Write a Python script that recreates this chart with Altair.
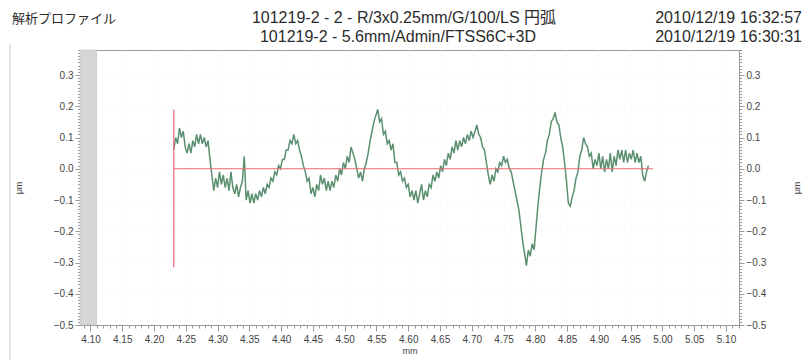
import altair as alt
import pandas as pd

# ---------------- data ----------------
X_START = 4.231          # mm, first sample of the profile
X_STEP = 0.003           # mm, spacing of the read-off samples
profile_um = [
    0.06, 0.10, 0.08, 0.13, 0.10, 0.12, 0.07, 0.05, 0.08, 0.05,
    0.09, 0.07, 0.11, 0.08, 0.11, 0.08, 0.10, 0.07, 0.09, 0.03,
    -0.02, -0.07, -0.03, -0.06, -0.01, -0.05, -0.02, -0.06, -0.03, -0.07,
    -0.01, -0.06, -0.08, -0.05, -0.09, -0.06, -0.04, 0.04,
    -0.10, -0.07, -0.11, -0.08, -0.11, -0.08, -0.10, -0.07, -0.09, -0.06,
    -0.08, -0.05, -0.06, -0.03, -0.04, -0.01, -0.02, 0.01, 0.00, 0.03,
    0.03, 0.06, 0.06, 0.09, 0.08, 0.11, 0.08, 0.09, 0.06, 0.04,
    0.01, -0.01, -0.04, -0.03, -0.08, -0.06, -0.09, -0.05, -0.07, -0.02,
    -0.05, -0.03, -0.07, -0.04, -0.07, -0.04, -0.06, -0.02, -0.04, 0.00,
    -0.02, 0.02, 0.00, 0.04, 0.02, 0.07, 0.05, 0.03, 0.00, -0.03,
    -0.01, -0.04, 0.00, 0.02, 0.05, 0.09, 0.12, 0.15, 0.17, 0.19,
    0.15, 0.16, 0.11, 0.12, 0.08, 0.09, 0.06, 0.08, 0.02, 0.02,
    -0.02, -0.01, -0.04, -0.03, -0.06, -0.05, -0.09, -0.07, -0.10, -0.07,
    -0.11, -0.08, -0.05, -0.10, -0.07, -0.09, -0.05, -0.06, -0.02, -0.04,
    -0.01, -0.03, 0.01, -0.01, 0.03, 0.01, 0.05, 0.03, 0.07, 0.05,
    0.09, 0.06, 0.09, 0.07, 0.10, 0.08, 0.11, 0.09, 0.12, 0.10,
    0.12, 0.14, 0.11, 0.10, 0.07, 0.06, 0.02, -0.02, -0.05, -0.02,
    -0.04, 0.00, -0.01, 0.02, 0.01, 0.04, 0.02, 0.03, 0.00, -0.01,
    -0.04, -0.07, -0.10, -0.13, -0.18, -0.23, -0.27, -0.31, -0.26, -0.28,
    -0.24, -0.26, -0.19, -0.12, -0.06, -0.01, 0.03, 0.05, 0.09, 0.11,
    0.15, 0.16, 0.18, 0.15, 0.14, 0.10, 0.07, 0.02, -0.04, -0.11,
    -0.12, -0.09, -0.07, -0.03, -0.01, 0.04, 0.06, 0.10, 0.08, 0.07,
    0.04, 0.05, 0.00, 0.03, 0.01, 0.05, 0.00, 0.04, -0.01, 0.03,
    0.00, 0.05, -0.01, 0.04, 0.01, 0.06, 0.03, 0.06, 0.02, 0.06,
    0.02, 0.05, 0.03, 0.06, 0.02, 0.05, 0.02, 0.04, -0.02, -0.04,
    -0.01, 0.01,
]
x_mm = [round(X_START + X_STEP * i, 4) for i in range(len(profile_um))]

# reference (red) lines
ref_x = 4.231
ref_v_low, ref_v_high = -0.315, 0.19
ref_h_end = 4.985
# shaded band at the left of the plot
band_end = 4.1095

x_domain = [4.0835, 5.1205]
y_domain = [-0.5, 0.38]
x_major = [round(4.10 + 0.05 * i, 2) for i in range(21)]
x_minor = [round(4.09 + 0.01 * i, 2) for i in range(104)]
y_major = [round(-0.5 + 0.1 * i, 1) for i in range(9)]
y_minor = [round(-0.5 + 0.01 * i, 2) for i in range(89)]

header_left = "解析プロファイル"
header_mid_1 = "101219-2 - 2 - R/3x0.25mm/G/100/LS 円弧"
header_mid_2 = "101219-2 - 5.6mm/Admin/FTSS6C+3D"
header_right_1 = "2010/12/19 16:32:57"
header_right_2 = "2010/12/19 16:30:31"

# ---------------- style ----------------
W, H = 659, 275
GREEN = "#5a9070"
RED = "#ee6a72"
AXC = "#9a9a9a"
FONT = "Liberation Sans, Noto Sans CJK JP"

xs = alt.Scale(domain=x_domain, nice=False, zero=False)
ys = alt.Scale(domain=y_domain, nice=False, zero=False)

common = dict(domainColor=AXC, tickColor=AXC, labelColor="#444444", labelFont="Liberation Sans",
              labelFontSize=10, titleFont=FONT, titleFontSize=9, titleFontWeight="normal",
              titleColor="#444444")

df = pd.DataFrame({"x": x_mm, "z": profile_um})

line = alt.Chart(df).mark_line(color=GREEN, strokeWidth=1.5).encode(
    x=alt.X("x:Q", scale=xs, axis=alt.Axis(orient="bottom", values=x_major, format=".2f",
                                           tickSize=6, title="mm", labelPadding=3, titlePadding=2,
                                           grid=True, gridColor="#f1f0e2", gridDash=[1, 4], **common)),
    y=alt.Y("z:Q", scale=ys, axis=alt.Axis(orient="left", values=y_major, format=".1f",
                                           tickSize=5, labelPadding=2, title="μm", titleAngle=-90,
                                           titleBaseline="middle", titleX=-62, titleY=H / 2,
                                           grid=True, gridColor="#f1f0e2", gridDash=[1, 4], **common)),
)

red_h = alt.Chart(pd.DataFrame({"x": [ref_x], "x2": [ref_h_end], "y": [0.0]})).mark_rule(
    color=RED, strokeWidth=1.2).encode(
    x=alt.X("x:Q", scale=xs, axis=alt.Axis(orient="bottom", values=x_minor, labels=False,
                                           tickSize=3, domain=False, grid=False, title=None,
                                           tickColor=AXC)),
    x2="x2:Q",
    y=alt.Y("y:Q", scale=ys, axis=alt.Axis(orient="left", values=y_minor, labels=False,
                                           tickSize=2.5, domain=False, grid=False, title=None,
                                           tickColor=AXC)),
)

red_v = alt.Chart(pd.DataFrame({"x": [ref_x], "y": [ref_v_low], "y2": [ref_v_high]})).mark_rule(
    color=RED, strokeWidth=1.2).encode(
    x=alt.X("x:Q", scale=xs, axis=None),
    y=alt.Y("y:Q", scale=ys, axis=alt.Axis(orient="right", values=y_major, format=".1f",
                                           tickSize=5, labelPadding=2, title="μm", titleAngle=-90,
                                           titleBaseline="middle", titleX=57, titleY=H / 2,
                                           grid=False, **common)),
    y2="y2:Q",
)

band = alt.Chart(pd.DataFrame({"x": [x_domain[0]], "x2": [band_end],
                               "y": [y_domain[0]], "y2": [y_domain[1]]})).mark_rect(
    color="#d6d6d6", stroke="#bdbdbd", strokeWidth=0.5).encode(
    x=alt.X("x:Q", scale=xs, axis=None),
    x2="x2:Q",
    y=alt.Y("y:Q", scale=ys, axis=alt.Axis(orient="right", values=y_minor, labels=False,
                                           tickSize=2.5, domain=False, grid=False, title=None,
                                           tickColor=AXC)),
    y2="y2:Q",
)


def label(text, x, y, align, size):
    return alt.Chart().mark_text(align=align, baseline="alphabetic", font=FONT, fontSize=size,
                                 color="#2b2b2b").encode(
        x=alt.value(x), y=alt.value(y), text=alt.value(text))


headers = [
    label(header_left, -68, -27, "left", 13),
    label(header_mid_1, 324, -27, "center", 16),
    label(header_mid_2, 318, -8, "center", 16),
    label(header_right_1, 722, -27, "right", 16),
    label(header_right_2, 722, -8, "right", 16),
]

page_edge = alt.Chart().mark_rule(color="#cfcfcf", strokeWidth=1).encode(
    x=alt.value(-70), y=alt.value(-6), y2=alt.value(312))

chart = alt.layer(band, line, red_h, red_v, page_edge, *headers).resolve_axis(
    x="independent", y="independent"
).properties(
    width=W, height=H,
    autosize=alt.AutoSizeParams(type="none"),
    padding={"left": 80, "top": 50, "right": 66, "bottom": 35},
    background="white",
).configure_view(stroke=AXC, strokeWidth=1)

chart.save("out.html", embed_options={"renderer": "svg", "actions": False})
